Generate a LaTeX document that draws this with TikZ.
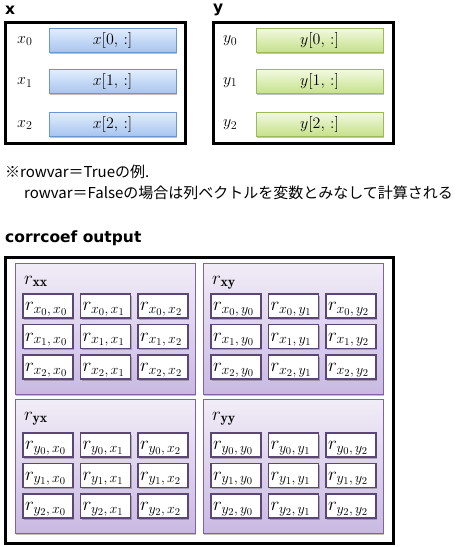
\RequirePackage{fix-cm}
\documentclass[tikz,border=0pt]{standalone}
\usepackage{fontspec}
\newfontfamily\jp{Noto Sans CJK JP}
\newfontfamily\hd{DejaVu Sans}
\usetikzlibrary{shadows}
\DeclareMathSizes{16}{16}{12}{9}
\DeclareMathSizes{19}{19}{14}{10.5}
\definecolor{blueTop}{HTML}{E3EEFD}
\definecolor{blueBot}{HTML}{A7C4EF}
\definecolor{blueLine}{HTML}{6F95CF}
\definecolor{greenTop}{HTML}{F2F9E1}
\definecolor{greenBot}{HTML}{C6E18A}
\definecolor{greenLine}{HTML}{9BBB59}
\definecolor{purTop}{HTML}{F1EDF7}
\definecolor{purBot}{HTML}{C9B9E2}
\definecolor{purLine}{HTML}{8064A2}
\definecolor{cellLine}{HTML}{5B4676}
\tikzset{
  shad/.style={drop shadow={shadow xshift=1.2pt, shadow yshift=-1.5pt, opacity=0.35, fill=black!70}},
  outerbox/.style={draw=black, line width=3pt},
  bluebox/.style={shad, draw=blueLine, line width=0.8pt, top color=blueTop, bottom color=blueBot, minimum width=127pt, minimum height=24pt, inner sep=0pt, font=\fontsize{16}{16}\selectfont},
  greenbox/.style={shad, draw=greenLine, line width=0.8pt, top color=greenTop, bottom color=greenBot, minimum width=127pt, minimum height=24pt, inner sep=0pt, font=\fontsize{16}{16}\selectfont},
  varlab/.style={anchor=west, inner sep=0pt, font=\fontsize{16}{16}\selectfont},
  purbox/.style={shad, draw=purLine, line width=0.8pt, top color=purTop, bottom color=purBot},
  celltext/.style={anchor=base west, inner sep=0pt, font=\fontsize{19}{19}\selectfont},
  heading/.style={anchor=west, inner sep=0pt, font=\hd\bfseries\fontsize{15.5}{15.5}\selectfont},
  note/.style={anchor=west, inner sep=0pt, font=\jp\fontsize{15}{15}\selectfont}
}
\begin{document}
\begin{tikzpicture}[x=1pt, y=-1pt]
\useasboundingbox (0,0) rectangle (463,547);
% x block
\node[heading] (xlab) at (5,10) {x};
\draw[outerbox] (5,22.7) rectangle (185,143);
\node[bluebox] (x0) at (112.5,40) {$x[0,\,{:}]$};
\node[bluebox] (x1) at (112.5,81.5) {$x[1,\,{:}]$};
\node[bluebox] (x2) at (112.5,124) {$x[2,\,{:}]$};
\node[varlab] (lx0) at (17,41) {$x_0$};
\node[varlab] (lx1) at (17,82.5) {$x_1$};
\node[varlab] (lx2) at (17,125) {$x_2$};
% y block
\node[heading] (ylab) at (213,10) {y};
\draw[outerbox] (213,22.7) rectangle (393,143);
\node[greenbox] (y0) at (319.5,40) {$y[0,\,{:}]$};
\node[greenbox] (y1) at (319.5,81.5) {$y[1,\,{:}]$};
\node[greenbox] (y2) at (319.5,124) {$y[2,\,{:}]$};
\node[varlab] (ly0) at (223,41) {$y_0$};
\node[varlab] (ly1) at (223,82.5) {$y_1$};
\node[varlab] (ly2) at (223,125) {$y_2$};
% note
\node[note] (n1) at (5,172) {※rowvar＝Trueの例.};
\node[note] (n2) at (24,193) {rowvar＝Falseの場合は列ベクトルを変数とみなして計算される};
% output
\node[heading] (olab) at (5,238) {corrcoef output};
\draw[outerbox] (5,257) rectangle (393,543);
\foreach \bx/\by/\bh/\ro/\a/\b/\lab in {15/263/131/31/x/x/xx, 203/263/131/31/x/y/xy, 15/399/134/34/y/x/yx, 203/399/134/34/y/y/yy}{
  \draw[purbox] (\bx,\by) rectangle ++(180,\bh);
  \node[celltext] (L\lab) at (\bx+9,\by+21) {$r_{\mathbf{\lab}}$};
  \foreach \i in {0,1,2}{
    \foreach \j in {0,1,2}{
      \pgfmathsetmacro{\cx}{\bx+8+57.5*\j}
      \pgfmathsetmacro{\cy}{\by+\ro+30.5*\i}
      \fill[white, shad] (\cx,\cy) rectangle ++(50,24);
      \node[celltext] (c\lab\i\j) at (\cx+2,\cy+16.5) {$r_{\a_{\i},\,\b_{\j}}$};
      \draw[cellLine, line width=1.6pt] (\cx,\cy) rectangle ++(50,24);
    }
  }
}
\end{tikzpicture}
\end{document}
